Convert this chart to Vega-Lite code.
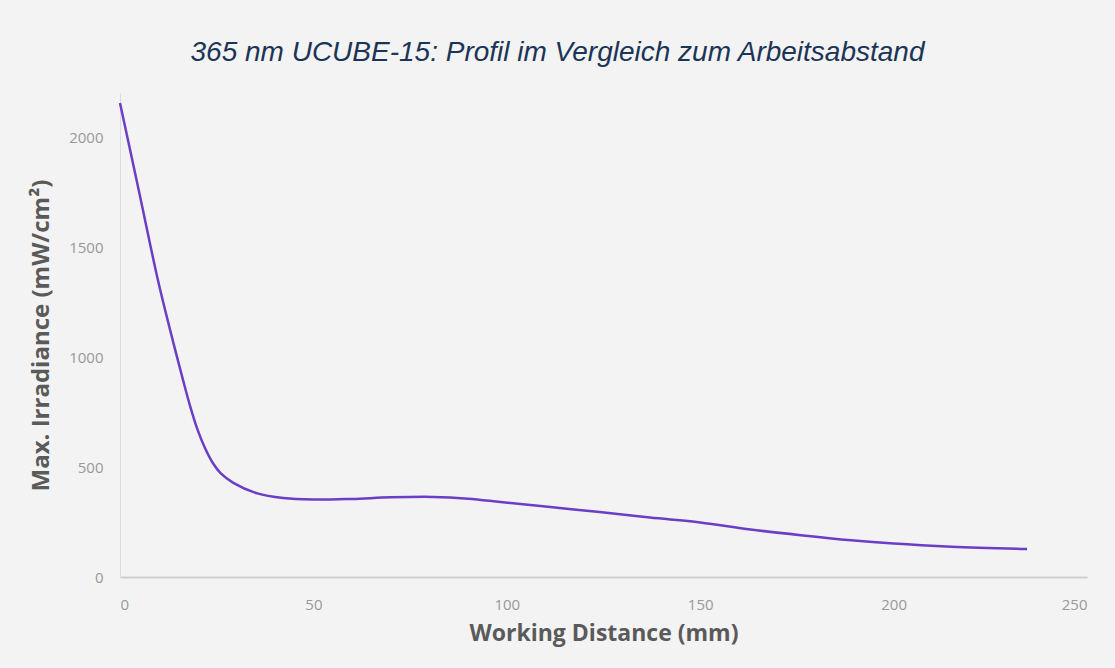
{
  "$schema": "https://vega.github.io/schema/vega-lite/v6.json",
  "width": 967,
  "height": 484,
  "autosize": {"type": "none"},
  "padding": {"left": 120, "top": 93, "right": 28, "bottom": 91},
  "background": "#f3f3f3",
  "title": {
    "text": "365 nm UCUBE-15: Profil im Vergleich zum Arbeitsabstand",
    "font": "Liberation Sans",
    "fontStyle": "italic",
    "fontWeight": "normal",
    "fontSize": 28,
    "color": "#1c3557",
    "anchor": "middle",
    "dx": -46,
    "offset": 26
  },
  "data": {
    "values": [
      {"d": 0, "irr": 2155},
      {"d": 5, "irr": 1745},
      {"d": 9.8, "irr": 1350},
      {"d": 13, "irr": 1120},
      {"d": 16.3, "irr": 895},
      {"d": 18, "irr": 785},
      {"d": 20, "irr": 672},
      {"d": 22, "irr": 585},
      {"d": 24, "irr": 518},
      {"d": 26, "irr": 472},
      {"d": 29.3, "irr": 428},
      {"d": 35.5, "irr": 380},
      {"d": 42.2, "irr": 359},
      {"d": 50, "irr": 352},
      {"d": 60, "irr": 355},
      {"d": 70, "irr": 362},
      {"d": 81, "irr": 364},
      {"d": 90, "irr": 356},
      {"d": 98.4, "irr": 341},
      {"d": 110, "irr": 320},
      {"d": 124, "irr": 295},
      {"d": 137, "irr": 270},
      {"d": 150, "irr": 248},
      {"d": 163, "irr": 216},
      {"d": 176, "irr": 190},
      {"d": 189, "irr": 167},
      {"d": 200, "irr": 152},
      {"d": 215, "irr": 138},
      {"d": 234.5, "irr": 127}
    ]
  },
  "mark": {"type": "line", "interpolate": "catmull-rom", "color": "#6a3fc6", "strokeWidth": 2.5},
  "encoding": {
    "x": {
      "field": "d",
      "type": "quantitative",
      "scale": {"domain": [0, 250], "nice": false},
      "axis": {
        "title": "Working Distance (mm)",
        "values": [0, 50, 100, 150, 200, 250],
        "format": "d",
        "grid": false,
        "ticks": false,
        "domainColor": "#cfcfcf",
        "domainWidth": 2,
        "labelFont": "Open Sans",
        "labelFontSize": 15,
        "labelColor": "#999999",
        "labelPadding": 20,
        "titleFont": "Open Sans",
        "titleFontSize": 23,
        "titleFontWeight": "bold",
        "titleColor": "#5a5a5a",
        "titlePadding": 10
      }
    },
    "y": {
      "field": "irr",
      "type": "quantitative",
      "scale": {"domain": [0, 2200], "nice": false},
      "axis": {
        "title": "Max. Irradiance (mW/cm²)",
        "values": [0, 500, 1000, 1500, 2000],
        "format": "d",
        "grid": false,
        "ticks": false,
        "domainColor": "#dcdcdc",
        "domainWidth": 1,
        "labelFont": "Open Sans",
        "labelFontSize": 15,
        "labelColor": "#999999",
        "labelPadding": 17,
        "titleFont": "Open Sans",
        "titleFontSize": 24,
        "titleFontWeight": "bold",
        "titleColor": "#5a5a5a",
        "titlePadding": 15
      }
    }
  },
  "config": {"view": {"stroke": null}}
}
